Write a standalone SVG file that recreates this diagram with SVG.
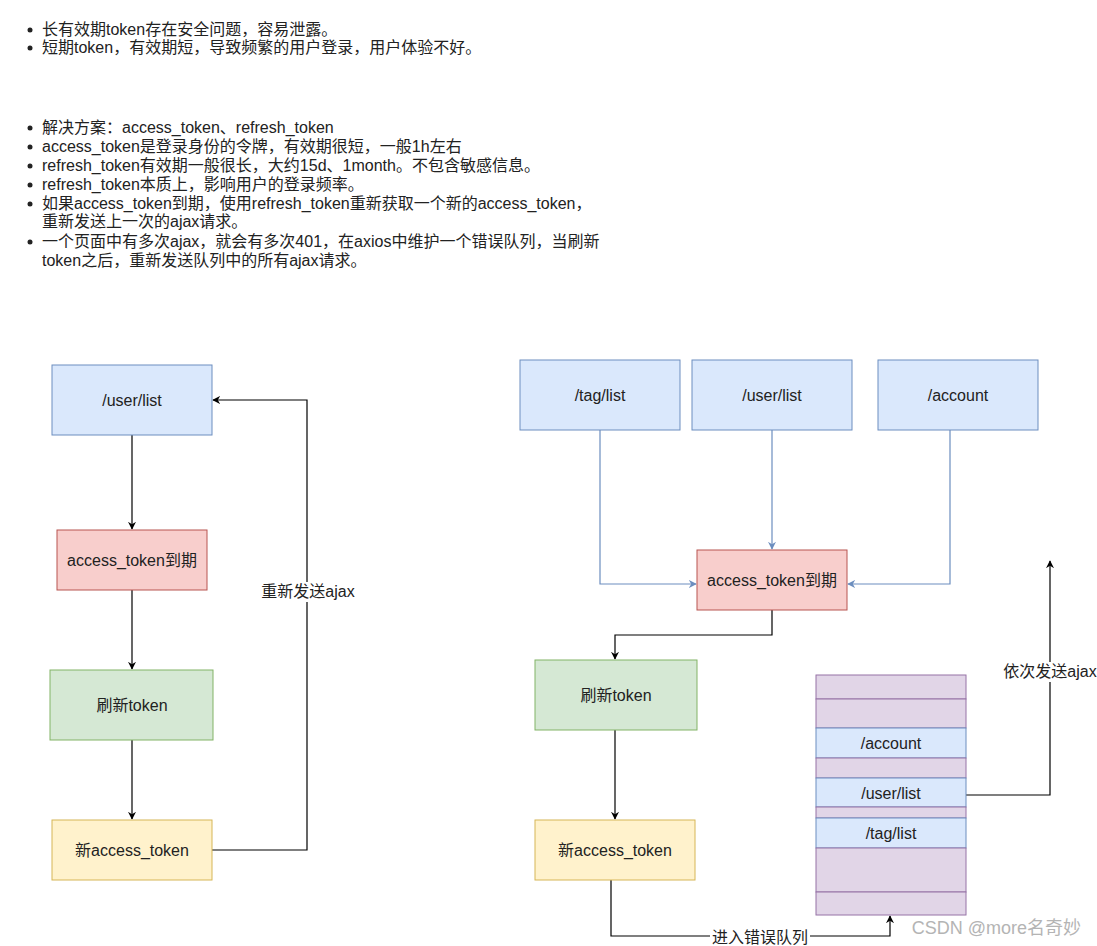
<svg xmlns="http://www.w3.org/2000/svg" width="1097" height="946" viewBox="0 0 1097 946">
<style>
text{font-family:"Liberation Sans","Noto Sans CJK SC",sans-serif;font-size:16px;fill:#222}
.c{text-anchor:middle}
.blue{fill:#dae8fc;stroke:#6c8ebf}
.red{fill:#f8cecc;stroke:#b85450}
.green{fill:#d5e8d4;stroke:#82b366}
.yellow{fill:#fff2cc;stroke:#d6b656}
.purple{fill:#e1d5e7;stroke:#9673a6}
.edge{fill:none;stroke:#000;stroke-width:1.2}
.edgeb{fill:none;stroke:#6c8ebf;stroke-width:1.2}
.lbl{fill:#fff}
.wm{fill:#b4b4b4;font-size:18px}
</style>
<defs>
<marker id="ak" viewBox="0 0 10 10" refX="9" refY="5" markerWidth="8" markerHeight="8" markerUnits="userSpaceOnUse" orient="auto"><path d="M0,0 L10,5 L0,10 L3,5 Z" fill="#000"/></marker>
<marker id="ab" viewBox="0 0 10 10" refX="9" refY="5" markerWidth="8" markerHeight="8" markerUnits="userSpaceOnUse" orient="auto"><path d="M0,0 L10,5 L0,10 L3,5 Z" fill="#6c8ebf"/></marker>
</defs>
<rect width="1097" height="946" fill="#fff"/>
<g id="notes">
<circle cx="30" cy="30" r="2.5" fill="#222"/><text x="42" y="35">长有效期token存在安全问题，容易泄露。</text>
<circle cx="30" cy="48" r="2.5" fill="#222"/><text x="42" y="53">短期token，有效期短，导致频繁的用户登录，用户体验不好。</text>
<circle cx="30" cy="128" r="2.5" fill="#222"/><text x="42" y="133">解决方案：access_token、refresh_token</text>
<circle cx="30" cy="147" r="2.5" fill="#222"/><text x="42" y="152">access_token是登录身份的令牌，有效期很短，一般1h左右</text>
<circle cx="30" cy="166" r="2.5" fill="#222"/><text x="42" y="171">refresh_token有效期一般很长，大约15d、1month。不包含敏感信息。</text>
<circle cx="30" cy="185" r="2.5" fill="#222"/><text x="42" y="190">refresh_token本质上，影响用户的登录频率。</text>
<circle cx="30" cy="204" r="2.5" fill="#222"/><text x="42" y="209">如果access_token到期，使用refresh_token重新获取一个新的access_token，</text>
<text x="42" y="227">重新发送上一次的ajax请求。</text>
<circle cx="30" cy="242" r="2.5" fill="#222"/><text x="42" y="247">一个页面中有多次ajax，就会有多次401，在axios中维护一个错误队列，当刷新</text>
<text x="42" y="266">token之后，重新发送队列中的所有ajax请求。</text>
</g>
<g id="connectors">
<path class="edge" d="M132,435 V529" marker-end="url(#ak)"/>
<path class="edge" d="M132,590 V669" marker-end="url(#ak)"/>
<path class="edge" d="M132,740 V819" marker-end="url(#ak)"/>
<path class="edge" d="M212,850 H307 V400 H213" marker-end="url(#ak)"/>
<rect class="lbl" x="260" y="582" width="98" height="20"/>
<text class="c" x="308" y="597">重新发送ajax</text>
<path class="edgeb" d="M600,430 V584 H696" marker-end="url(#ab)"/>
<path class="edgeb" d="M772,430 V549" marker-end="url(#ab)"/>
<path class="edgeb" d="M950,430 V584 H848" marker-end="url(#ab)"/>
<path class="edge" d="M772,610 V635 H615 V659" marker-end="url(#ak)"/>
<path class="edge" d="M615,730 V819" marker-end="url(#ak)"/>
<path class="edge" d="M611,880 V936 H890 V916" marker-end="url(#ak)"/>
<rect class="lbl" x="710" y="928" width="100" height="18"/>
<text class="c" x="760" y="943">进入错误队列</text>
<path class="edge" d="M966,795 H1050 V561" marker-end="url(#ak)"/>
<rect class="lbl" x="1002" y="662" width="95" height="20"/>
<text class="c" x="1050" y="677">依次发送ajax</text>
</g>
<g id="n-userlist-left"><rect class="blue" x="52" y="365" width="160" height="70"/><text class="c" x="132" y="406">/user/list</text></g>
<g id="n-expired-left"><rect class="red" x="57" y="530" width="150" height="60"/><text class="c" x="132" y="566">access_token到期</text></g>
<g id="n-refresh-left"><rect class="green" x="50" y="670" width="163" height="70"/><text class="c" x="132" y="711">刷新token</text></g>
<g id="n-new-left"><rect class="yellow" x="52" y="820" width="160" height="60"/><text class="c" x="132" y="856">新access_token</text></g>
<g id="n-taglist"><rect class="blue" x="520" y="360" width="160" height="70"/><text class="c" x="600" y="401">/tag/list</text></g>
<g id="n-userlist"><rect class="blue" x="692" y="360" width="160" height="70"/><text class="c" x="772" y="401">/user/list</text></g>
<g id="n-account"><rect class="blue" x="878" y="360" width="160" height="70"/><text class="c" x="958" y="401">/account</text></g>
<g id="n-expired-right"><rect class="red" x="697" y="550" width="150" height="60"/><text class="c" x="772" y="586">access_token到期</text></g>
<g id="n-refresh-right"><rect class="green" x="535" y="660" width="162" height="70"/><text class="c" x="616" y="701">刷新token</text></g>
<g id="n-new-right"><rect class="yellow" x="535" y="820" width="160" height="60"/><text class="c" x="615" y="856">新access_token</text></g>
<g id="n-queue">
<rect class="purple" x="816" y="675" width="150" height="24"/>
<rect class="purple" x="816" y="699" width="150" height="29"/>
<rect class="blue" x="816" y="728" width="150" height="30"/><text class="c" x="891" y="749">/account</text>
<rect class="purple" x="816" y="758" width="150" height="20"/>
<rect class="blue" x="816" y="778" width="150" height="29"/><text class="c" x="891" y="799">/user/list</text>
<rect class="purple" x="816" y="807" width="150" height="11"/>
<rect class="blue" x="816" y="818" width="150" height="30"/><text class="c" x="891" y="839">/tag/list</text>
<rect class="purple" x="816" y="848" width="150" height="44"/>
<rect class="purple" x="816" y="892" width="150" height="23"/>
</g>
<text class="wm" x="1081" y="934" text-anchor="end">CSDN @more名奇妙</text>
</svg>
